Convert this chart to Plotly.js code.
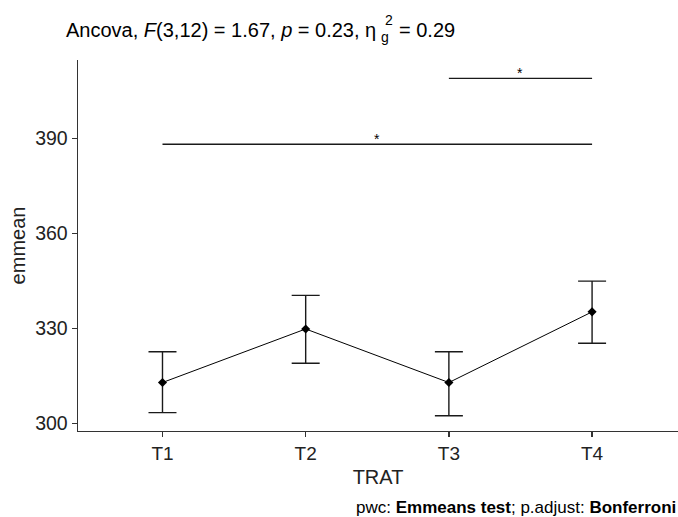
<!DOCTYPE html>
<html>
<head>
<meta charset="utf-8">
<script src="https://cdn.plot.ly/plotly-3.0.1.min.js"></script>
<style>body{margin:0;padding:0;background:#fff;} #plot{width:678px;height:517px;}</style>
</head>
<body>
<div id="plot"></div>
<script>
// Data
const categories = ["T1", "T2", "T3", "T4"];
const emmean = [312.9, 329.8, 312.9, 335.2];
const ciUpper = [322.6, 340.4, 322.6, 344.9];
const ciLower = [303.4, 319.0, 302.4, 325.3];
const yTickVals = [300, 330, 360, 390];

// pairwise comparison brackets
const bracketGroup1 = ["T1", "T3"];
const bracketGroup2 = ["T4", "T4"];
const bracketY = [388.1, 408.9];
const bracketLabel = ["*", "*"];

const errPlus = emmean.map((v, i) => ciUpper[i] - v);
const errMinus = emmean.map((v, i) => v - ciLower[i]);

const FONT = "Liberation Sans, Arial, sans-serif";

const traces = [
  {
    x: categories, y: emmean, type: "scatter", mode: "lines+markers",
    line: {color: "#000", width: 1},
    marker: {symbol: "diamond", size: 7, color: "#000"},
    error_y: {type: "data", symmetric: false, array: errPlus, arrayminus: errMinus,
              color: "#1a1a1a", thickness: 1.4, width: 14},
    hoverinfo: "skip", showlegend: false
  }
];

bracketY.forEach((yv, i) => {
  traces.push({
    x: [bracketGroup1[i], bracketGroup2[i]], y: [yv, yv],
    type: "scatter", mode: "lines", line: {color: "#1a1a1a", width: 1.4},
    hoverinfo: "skip", showlegend: false
  });
});

const catIndex = c => categories.indexOf(c);
const starAnn = bracketY.map((yv, i) => ({
  x: (catIndex(bracketGroup1[i]) + catIndex(bracketGroup2[i])) / 2,
  y: yv, xref: "x", yref: "y", text: bracketLabel[i], showarrow: false,
  yanchor: "bottom", yshift: -5, font: {family: FONT, size: 14, color: "#000"}
}));

// helpers to place text at pixel positions (paper coords)
const PL = 78, PW = 600, PB = 431, PH = 371;
const px = x => (x - PL) / PW;
const py = y => (PB - y) / PH;

const layout = {
  width: 678, height: 517,
  margin: {l: 78, r: 0, t: 60, b: 86},
  paper_bgcolor: "#fff", plot_bgcolor: "#fff",
  font: {family: FONT, color: "#000"},
  title: {
    text: "Ancova, <i>F</i>(3,12) = 1.67, <i>p</i> = 0.23, η",
    x: 66 / 678, xref: "container", xanchor: "left",
    y: 1 - 30 / 517, yref: "container", yanchor: "middle",
    font: {family: FONT, size: 20, color: "#000"}
  },
  xaxis: {
    type: "category", range: [-0.59, 3.6], showgrid: false, zeroline: false,
    showline: true, linecolor: "#333", linewidth: 1.4,
    ticks: "outside", ticklen: 5, tickcolor: "#333", tickwidth: 1.4,
    tickfont: {family: FONT, size: 19, color: "#222"},
    title: {text: "TRAT", font: {family: FONT, size: 20, color: "#222"}, standoff: 6}
  },
  yaxis: {
    range: [297.6, 414.7], tickvals: yTickVals, showgrid: false, zeroline: false,
    showline: true, linecolor: "#333", linewidth: 1.4,
    ticks: "outside", ticklen: 5, tickcolor: "#333", tickwidth: 1.4,
    ticksuffix: "\u00a0",
    tickfont: {family: FONT, size: 19.5, color: "#222"},
    title: {text: "emmean", font: {family: FONT, size: 20, color: "#222"}, standoff: 4}
  },
  annotations: starAnn.concat([
    {text: "2", xref: "paper", yref: "paper", x: px(389), y: py(20),
     showarrow: false, xanchor: "center", yanchor: "middle",
     font: {family: FONT, size: 14, color: "#000"}},
    {text: "g", xref: "paper", yref: "paper", x: px(384.5), y: py(37),
     showarrow: false, xanchor: "center", yanchor: "middle",
     font: {family: FONT, size: 14, color: "#000"}},
    {text: "= 0.29", xref: "paper", yref: "paper", x: px(397), y: py(30),
     showarrow: false, xanchor: "left", yanchor: "middle",
     font: {family: FONT, size: 20, color: "#000"}},
    {text: "pwc: <b>Emmeans test</b>; p.adjust: <b>Bonferroni</b>", xref: "paper", yref: "paper",
     x: 1, y: py(507), xanchor: "right", yanchor: "middle", showarrow: false,
     font: {family: FONT, size: 17, color: "#000"}}
  ])
};

Plotly.newPlot("plot", traces, layout, {displayModeBar: false, staticPlot: true});
</script>
</body>
</html>
